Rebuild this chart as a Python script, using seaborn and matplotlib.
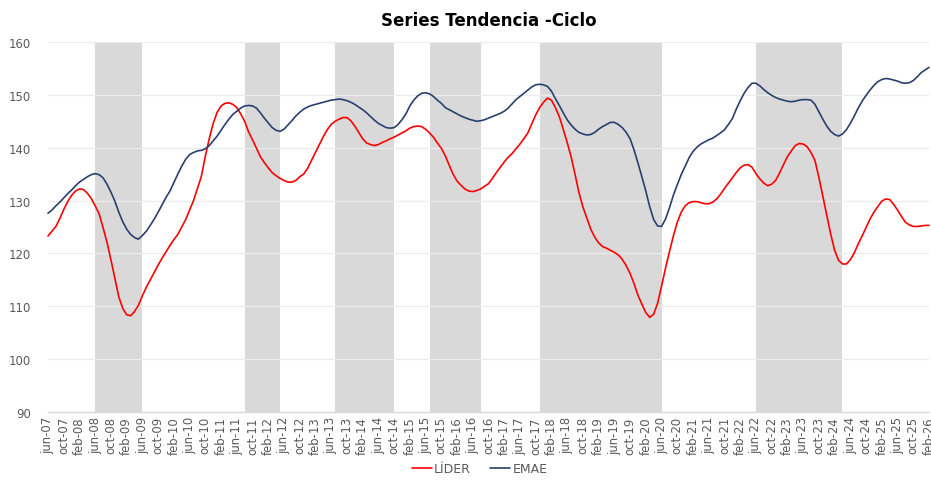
import matplotlib
matplotlib.use("Agg")
import matplotlib.pyplot as plt
import seaborn as sns
import pandas as pd
import numpy as np

# months from jun-07 to feb-26 (monthly), labels in spanish short form
meses = ['ene', 'feb', 'mar', 'abr', 'may', 'jun', 'jul', 'ago', 'sep', 'oct', 'nov', 'dic']
fechas = []
for k in range(225):
    m = (5 + k) % 12
    y = 7 + (5 + k) // 12
    fechas.append(f"{meses[m]}-{y:02d}")

lider = [
    123.3, 124.2, 125.1, 126.6, 128.3, 129.8, 131.0, 131.8, 132.2, 132.1,
    131.4, 130.4, 129.0, 127.5, 124.9, 122.1, 118.8, 115.3, 111.8, 109.6,
    108.4, 108.2, 109.0, 110.2, 112.0, 113.6, 115.0, 116.4, 117.8, 119.1,
    120.3, 121.5, 122.6, 123.6, 125.0, 126.4, 128.2, 130.0, 132.3, 134.6,
    138.4, 141.7, 144.6, 146.7, 147.9, 148.4, 148.5, 148.2, 147.6, 146.4,
    145.0, 143.0, 141.5, 139.9, 138.3, 137.2, 136.2, 135.3, 134.7, 134.2,
    133.8, 133.5, 133.5, 133.8, 134.5, 135.0, 136.1, 137.6, 139.1, 140.6,
    142.1, 143.4, 144.4, 145.0, 145.4, 145.7, 145.7, 145.1, 144.1, 142.9,
    141.7, 140.9, 140.6, 140.4, 140.6, 141.0, 141.3, 141.7, 142.0, 142.4,
    142.8, 143.2, 143.7, 144.0, 144.1, 144.0, 143.5, 142.8, 142.0, 140.9,
    139.9, 138.5, 136.7, 135.0, 133.7, 132.9, 132.2, 131.8, 131.7, 131.9,
    132.2, 132.7, 133.2, 134.2, 135.3, 136.3, 137.3, 138.2, 138.9, 139.8,
    140.7, 141.7, 142.8, 144.5, 146.2, 147.6, 148.6, 149.4, 149.0, 147.6,
    145.9, 143.5, 141.0, 138.3, 135.0, 131.5, 128.8, 126.7, 124.6, 123.1,
    122.0, 121.3, 121.0, 120.6, 120.2, 119.7, 118.9, 117.7, 116.2, 114.3,
    112.1, 110.4, 108.8, 107.9, 108.5, 110.6, 113.8, 117.2, 120.3, 123.3,
    125.9, 127.8, 129.0, 129.6, 129.8, 129.8, 129.6, 129.4, 129.4, 129.7,
    130.3, 131.2, 132.3, 133.3, 134.3, 135.3, 136.2, 136.7, 136.8, 136.3,
    135.1, 134.1, 133.3, 132.8, 133.1, 133.8, 135.2, 136.8, 138.3, 139.4,
    140.4, 140.8, 140.7, 140.2, 139.1, 137.6, 134.4, 130.8, 127.3, 123.7,
    120.6, 118.7, 118.0, 118.0, 118.8, 120.1, 121.8, 123.3, 124.9, 126.5,
    127.8, 128.9, 129.9, 130.3, 130.2, 129.3, 128.2, 127.0, 125.9, 125.4,
    125.1, 125.1, 125.2, 125.3, 125.3,
]

emae = [
    127.6, 128.2, 129.0, 129.7, 130.5, 131.3, 132.0, 132.8, 133.5, 134.0,
    134.5, 134.9, 135.1, 134.9, 134.3, 133.1, 131.6, 129.9, 127.8, 126.0,
    124.6, 123.6, 123.0, 122.7, 123.4, 124.2, 125.3, 126.5, 127.8, 129.2,
    130.6, 131.8, 133.4, 135.0, 136.5, 137.8, 138.7, 139.1, 139.4, 139.5,
    139.8, 140.4, 141.3, 142.2, 143.3, 144.4, 145.4, 146.3, 146.9, 147.5,
    147.9, 148.0, 147.9, 147.5, 146.6, 145.6, 144.7, 143.8, 143.3, 143.1,
    143.5, 144.3, 145.1, 146.0, 146.7, 147.3, 147.7, 148.0, 148.2, 148.4,
    148.6, 148.8, 149.0, 149.1, 149.2, 149.1, 148.9, 148.6, 148.2, 147.7,
    147.2, 146.6, 145.9, 145.2, 144.6, 144.2, 143.8, 143.7, 143.8, 144.4,
    145.3, 146.4, 147.9, 149.0, 149.8, 150.3, 150.4, 150.2, 149.7, 149.0,
    148.4, 147.6, 147.2, 146.8, 146.4, 146.0, 145.7, 145.4, 145.2, 145.0,
    145.1, 145.3, 145.6, 145.9, 146.2, 146.5, 146.9, 147.5, 148.3, 149.1,
    149.7, 150.3, 150.9, 151.5, 151.9, 152.0, 151.9, 151.6, 150.7, 149.3,
    148.0, 146.6, 145.3, 144.3, 143.5, 142.9, 142.6, 142.4, 142.5, 142.9,
    143.5, 144.0, 144.4, 144.8, 144.8, 144.4, 143.8, 142.9, 141.7, 139.6,
    137.1, 134.5, 131.8, 128.8, 126.4, 125.2, 125.1, 126.5, 128.6, 131.0,
    133.0, 134.9, 136.5, 138.1, 139.3, 140.1, 140.7, 141.1, 141.5, 141.8,
    142.3, 142.8, 143.4, 144.4, 145.5, 147.3, 148.9, 150.3, 151.4, 152.2,
    152.2, 151.7, 151.0, 150.4, 149.9, 149.5, 149.2, 149.0, 148.8, 148.7,
    148.8, 149.0, 149.1, 149.1, 149.0, 148.2, 146.8, 145.4, 144.1, 143.1,
    142.5, 142.2, 142.6, 143.4, 144.6, 146.0, 147.5, 148.8, 149.9, 150.9,
    151.8, 152.5, 152.9, 153.1, 153.0, 152.8, 152.6, 152.3, 152.2, 152.3,
    152.7, 153.4, 154.2, 154.7, 155.2,
]

# recession periods (shaded), start / end month
recesiones = [
    ("jun-08", "jun-09"),
    ("ago-11", "may-12"),
    ("jul-13", "oct-14"),
    ("jul-15", "ago-16"),
    ("nov-17", "jun-20"),
    ("jun-22", "abr-24"),
]

# tick labels in the chart use english month abbreviations
meses_en = {'ene': 'jan', 'feb': 'feb', 'mar': 'mar', 'abr': 'apr', 'may': 'may', 'jun': 'jun',
            'jul': 'jul', 'ago': 'aug', 'sep': 'sep', 'oct': 'oct', 'nov': 'nov', 'dic': 'dec'}

df = pd.DataFrame({
    'mes': list(range(len(fechas))) * 2,
    'valor': lider + emae,
    'serie': ['LÍDER'] * len(lider) + ['EMAE'] * len(emae),
})

sns.set_style("white")
plt.rcParams['font.family'] = ['DejaVu Sans']

fig = plt.figure(figsize=(9.31, 4.85), dpi=100)
ax = fig.add_axes([48 / 931, 72 / 485, 881 / 931, 370 / 485])

for ini, fin in recesiones:
    ax.axvspan(fechas.index(ini), fechas.index(fin), color='#d9d9d9', lw=0, zorder=0)

sns.lineplot(data=df, x='mes', y='valor', hue='serie',
             palette={'LÍDER': '#ff0000', 'EMAE': '#2b3f6e'},
             linewidth=1.2, ax=ax, zorder=3, clip_on=False)

ax.set_xlim(0, len(fechas) - 1)
ax.set_ylim(90, 160)
ax.set_yticks(range(90, 161, 10))
pos = list(range(0, len(fechas), 4))
ax.set_xticks(pos)
etiq = []
for p in pos:
    mm, yy = fechas[p].split('-')
    etiq.append(meses_en[mm] + '-' + yy)
ax.set_xticklabels(etiq, rotation=90)
ax.tick_params(axis='both', length=0, colors='#595959', labelsize=8.4)
ax.tick_params(axis='y', pad=12)
ax.tick_params(axis='x', pad=3)
ax.set_xlabel('')
ax.set_ylabel('')

ax.grid(axis='y', color='#ececec', lw=0.9, zorder=1)
ax.set_axisbelow(True)
for s in ['top', 'right', 'left']:
    ax.spines[s].set_visible(False)
ax.spines['bottom'].set_color('#d9d9d9')
ax.spines['bottom'].set_linewidth(1.0)

ax.set_title('Series Tendencia -Ciclo', fontsize=12, fontweight='bold', color='black', pad=12)

handles, labels = ax.get_legend_handles_labels()
ax.legend(handles, labels, loc='lower center', bbox_to_anchor=(0.515, -0.005),
          bbox_transform=fig.transFigure, ncol=2, frameon=False, fontsize=9,
          handlelength=1.6, handletextpad=0.2, columnspacing=1.5, labelcolor='#595959')

fig.savefig('out.png', dpi=100)
